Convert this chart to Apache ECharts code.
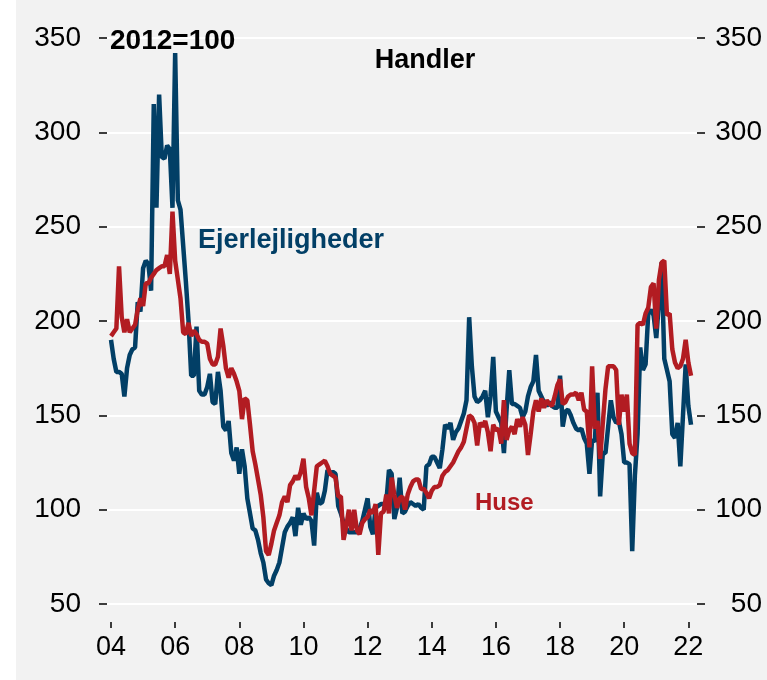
<!DOCTYPE html>
<html>
<head>
<meta charset="utf-8">
<script src="https://cdn.jsdelivr.net/npm/echarts@6/dist/echarts.min.js"></script>
<style>
  html, body { margin: 0; padding: 0; background: #fff; }
  #chart { width: 767px; height: 680px; }
</style>
</head>
<body>
<div id="chart"></div>
<script>
  // monthly series, Jan 2004 .. Feb 2022, index 2012=100
  const startYear = 2004;
  const yearTicks = [2004, 2006, 2008, 2010, 2012, 2014, 2016, 2018, 2020, 2022];

  const ejerlejligheder = [
    190, 180, 173, 173, 172, 160, 175, 182, 185, 186, 210, 205,
    228, 232, 230, 216, 315, 260, 320, 287, 286, 293, 291, 260,
    342, 264, 259, 240, 221, 200, 171, 171, 197, 163, 161, 161,
    165, 172, 157, 156, 173, 163, 144, 142, 147, 130, 126, 133,
    119, 132, 123, 106, 98, 90, 89, 84, 77, 72, 63, 61,
    60, 65, 68, 72, 80, 88, 91, 93, 96, 86, 101, 92,
    98, 95, 96, 94, 81, 109, 103, 104, 110, 121, 119, 120,
    119, 102, 98, 93, 90, 88, 88, 88, 88, 90, 94, 100,
    106, 91, 87, 101, 102, 103, 103, 104, 121, 119, 95, 101,
    117, 98, 99, 102, 104, 103, 102, 103, 101, 100, 123, 124,
    128, 128, 125, 122, 132, 145, 143, 146, 137, 141, 143, 147,
    151, 158, 202, 176, 160, 157, 158, 160, 163, 149, 160, 181,
    152, 149, 146, 130, 153, 174, 156, 156, 155, 154, 149, 152,
    160, 165, 168, 182, 163, 160, 157, 155, 157, 155, 154, 154,
    171, 144, 152, 153, 150, 146, 143, 142, 143, 138, 135, 119,
    137, 136, 162, 107, 130, 130, 144, 158, 149, 146, 147, 140,
    125, 125, 124, 78, 118, 140, 186, 174, 177, 204, 206, 203,
    191, 210, 231, 180, 174, 168, 140, 138, 146, 123, 150, 177,
    155, 145
  ];

  const huse = [
    192, 194, 196, 229, 202, 194, 201, 194, 196, 198, 206, 212,
    208, 220, 220, 223, 225, 227, 228, 229, 229, 235, 225, 258,
    232, 222, 212, 194, 193, 199, 192, 195, 193, 190, 189, 189,
    188, 180, 177, 177, 181, 196, 187, 175, 170, 175, 172, 168,
    163, 148, 159, 158, 145, 131, 124, 116, 108, 96, 78, 76,
    82, 89, 93, 97, 104, 107, 104, 113, 115, 118, 116, 120,
    127, 112, 106, 97, 110, 123, 124, 125, 126, 123, 119, 118,
    117, 107, 107, 84, 91, 100, 89, 100, 89, 87, 93, 95,
    96, 100, 98, 103, 76, 98, 99, 108, 98, 117, 108, 101,
    106, 107, 100, 108, 112, 115, 116, 116, 111, 111, 109, 106,
    110, 112, 112, 113, 118, 120, 121, 123, 125, 128, 131, 133,
    136, 143, 150, 149, 146, 134, 146, 144, 147, 141, 131, 145,
    142, 143, 135, 158, 137, 142, 144, 140, 148, 144, 149, 145,
    129, 140, 152, 158, 152, 159, 154, 158, 156, 155, 160, 166,
    169, 156, 157, 160, 161, 161, 162, 158, 162, 153, 152, 133,
    176, 143, 147, 127, 146, 164, 176, 176, 176, 174, 145, 161,
    152, 161, 135, 130, 129, 198, 199, 198, 204, 207, 218, 220,
    196, 222, 231, 232, 203, 204, 185, 178, 175, 176, 180, 190,
    178, 171
  ];

  const blue = '#023f66';
  const red = '#b21c22';

  function toPairs(arr) {
    return arr.map((v, i) => [startYear + i / 12, v]);
  }

  const chart = echarts.init(document.getElementById('chart'));

  const option = {
    backgroundColor: '#ffffff',
    animation: false,
    grid: { left: 107, right: 70, top: 38, bottom: 76 },
    graphic: [
      { type: 'rect', z: -10, shape: { x: 16, y: 0, width: 751, height: 680 }, style: { fill: '#f2f2f2' } },
      { type: 'text', z: 100, x: 110, y: 41, style: { text: '2012=100', font: 'bold 28px "Liberation Sans", Arial', fill: '#000', verticalAlign: 'middle' } },
      { type: 'text', z: 100, x: 425, y: 61, style: { text: 'Handler', font: 'bold 27px "Liberation Sans", Arial', fill: '#000', align: 'center', verticalAlign: 'middle' } },
      { type: 'text', z: 100, x: 198, y: 241, style: { text: 'Ejerlejligheder', font: 'bold 27px "Liberation Sans", Arial', fill: blue, verticalAlign: 'middle' } },
      { type: 'text', z: 100, x: 475, y: 503, style: { text: 'Huse', font: 'bold 24px "Liberation Sans", Arial', fill: red, verticalAlign: 'middle' } }
    ],
    xAxis: {
      type: 'value',
      min: 2003.875,
      max: 2022.27,
      offset: 18,
      axisLine: { show: false },
      splitLine: { show: false },
      axisTick: {
        show: true,
        length: 6,
        customValues: yearTicks,
        lineStyle: { color: '#000', width: 1.5 }
      },
      axisLabel: {
        customValues: yearTicks,
        margin: 12,
        fontSize: 27,
        fontFamily: 'Liberation Sans',
        color: '#000',
        formatter: v => String(Math.round(v) % 100).padStart(2, '0')
      }
    },
    yAxis: [
      {
        type: 'value',
        position: 'left',
        min: 50,
        max: 350,
        interval: 50,
        axisLine: { show: false },
        axisTick: { show: true, length: 8, lineStyle: { color: '#000', width: 1.5 } },
        splitLine: { show: true, lineStyle: { color: '#ffffff', width: 2 } },
        axisLabel: { margin: 26, fontSize: 28, fontFamily: 'Liberation Sans', color: '#000' }
      },
      {
        type: 'value',
        position: 'right',
        min: 50,
        max: 350,
        interval: 50,
        axisLine: { show: false },
        axisTick: { show: true, length: 8, lineStyle: { color: '#000', width: 1.5 } },
        splitLine: { show: false },
        axisLabel: { margin: 65, align: 'right', fontSize: 28, fontFamily: 'Liberation Sans', color: '#000' }
      }
    ],
    series: [
      {
        name: 'Ejerlejligheder',
        type: 'line',
        data: toPairs(ejerlejligheder),
        showSymbol: false,
        symbol: 'none',
        lineStyle: { color: blue, width: 4.5 },
        z: 2
      },
      {
        name: 'Huse',
        type: 'line',
        data: toPairs(huse),
        showSymbol: false,
        symbol: 'none',
        lineStyle: { color: red, width: 4.5 },
        z: 3
      }
    ]
  };

  chart.setOption(option);
</script>
</body>
</html>
